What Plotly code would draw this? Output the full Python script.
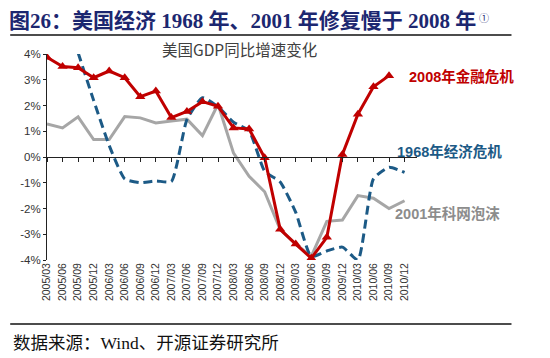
import plotly.graph_objects as go

quarters = ["2005/03","2005/06","2005/09","2005/12","2006/03","2006/06","2006/09","2006/12",
            "2007/03","2007/06","2007/09","2007/12","2008/03","2008/06","2008/09","2008/12",
            "2009/03","2009/06","2009/09","2009/12","2010/03","2010/06","2010/09","2010/12"]

crisis_2008 = [3.87, 3.51, 3.47, 3.08, 3.34, 3.08, 2.34, 2.56, 1.53, 1.77, 2.15, 1.97,
               1.13, 1.09, -0.03, -2.81, -3.38, -3.93, -3.12, 0.1, 1.66, 2.73, 3.16, None]
crisis_1968 = [None, None, 4.05, 2.2, 0.45, -0.85, -1.0, -0.93, -0.95, 1.45, 2.3, 1.95,
               1.35, 1.02, -0.55, -0.97, -2.15, -3.87, -3.65, -3.5, -4.0, -0.85, -0.4, -0.6]
bubble_2001 = [1.28, 1.13, 1.56, 0.68, 0.68, 1.57, 1.52, 1.32, 1.4, 1.47, 0.83, 2.05,
               0.15, -0.75, -1.35, -2.82, -3.38, -3.86, -2.5, -2.45, -1.5, -1.6, -2.0, -1.7]
y_ticks = [-4, -3, -2, -1, 0, 1, 2, 3, 4]
y_tick_labels = ["-4%", "-3%", "-2%", "-1%", "0%", "1%", "2%", "3%", "4%"]

RED = "#C00000"
BLUE = "#1C5A86"
GRAY = "#A6A6A6"

# target plot-area edges in screen pixels; the page body adds an 8px offset
OFF = 8
L, R, T, B = 45, 417, 54, 260
W, H = R - L, B - T


def px(xp):
    return (xp - L) / W


def py(yp):
    return (B - yp) / H


fig = go.Figure()
fig.add_trace(go.Scatter(x=quarters, y=bubble_2001, mode="lines",
                         line=dict(color=GRAY, width=3), showlegend=False))
fig.add_trace(go.Scatter(x=quarters, y=crisis_1968, mode="lines",
                         line=dict(color=BLUE, width=3, dash="9px,5px", shape="spline", smoothing=0.5),
                         showlegend=False))
fig.add_trace(go.Scatter(x=quarters, y=crisis_2008, mode="lines+markers",
                         line=dict(color=RED, width=3),
                         marker=dict(symbol="triangle-up", size=9, color=RED),
                         showlegend=False))
# helper trace for the zero-line axis
fig.add_trace(go.Scatter(x=quarters, y=[0] * len(quarters), mode="none", xaxis="x2",
                         showlegend=False, hoverinfo="skip"))

xr = [0, 23.8]
fig.update_layout(
    width=550, height=358,
    margin=dict(l=L - OFF, r=550 - R + OFF, t=T - OFF, b=358 - B + OFF),
    paper_bgcolor="white", plot_bgcolor="white",
    font=dict(family="Liberation Sans, Noto Sans CJK SC", color="#333333"),
    xaxis=dict(type="category", range=xr, showline=False, showgrid=False, zeroline=False,
               ticks="", tickangle=-90, tickfont=dict(size=10.5, color="#333333")),
    xaxis2=dict(type="category", range=xr, overlaying="x", anchor="free", position=0.5,
                showline=True, linecolor="#222222", linewidth=1, ticks="outside",
                ticklen=4, tickcolor="#222222", showticklabels=False, showgrid=False,
                zeroline=False),
    yaxis=dict(range=[-4, 4], tickvals=y_ticks, ticktext=y_tick_labels, showline=True,
               linecolor="#222222", linewidth=1, ticks="outside", ticklen=3,
               tickcolor="#222222", showgrid=False, zeroline=False,
               tickfont=dict(size=11.5, color="#333333")),
)

ann = []
ann.append(dict(text="<b>图26：美国经济 1968 年、2001 年修复慢于 2008 年</b>",
                x=px(6), y=py(21), xref="paper", yref="paper", xanchor="left", yanchor="middle",
                showarrow=False, borderpad=0,
                font=dict(family="Liberation Serif, Noto Sans CJK SC", size=21, color="#1c2770")))
ann.append(dict(text="①", x=px(478), y=py(17), xref="paper", yref="paper",
                xanchor="left", yanchor="middle", showarrow=False, borderpad=0,
                font=dict(family="Noto Sans CJK SC", size=10, color="#1c2770")))
ann.append(dict(text="数据来源：Wind、开源证券研究所",
                x=px(9), y=py(343), xref="paper", yref="paper", xanchor="left", yanchor="middle",
                showarrow=False,
                font=dict(family="Liberation Serif, Noto Sans CJK SC", size=17.5, color="#111111")))
ann.append(dict(text="美国GDP同比增速变化", x=px(239), y=py(49), xref="paper", yref="paper",
                xanchor="center", yanchor="middle", showarrow=False,
                font=dict(family="Noto Sans CJK SC", size=15.5, color="#404040")))
ann.append(dict(text="<b>2008年金融危机</b>", x=px(407), y=py(77), xref="paper", yref="paper",
                xanchor="left", yanchor="middle", showarrow=False,
                font=dict(family="Liberation Sans, Noto Sans CJK SC", size=14.5, color=RED)))
ann.append(dict(text="<b>1968年经济危机</b>", x=px(395), y=py(151), xref="paper", yref="paper",
                xanchor="left", yanchor="middle", showarrow=False,
                font=dict(family="Liberation Sans, Noto Sans CJK SC", size=14.5, color=BLUE)))
ann.append(dict(text="<b>2001年科网泡沫</b>", x=px(393), y=py(213), xref="paper", yref="paper",
                xanchor="left", yanchor="middle", showarrow=False,
                font=dict(family="Liberation Sans, Noto Sans CJK SC", size=14.5, color="#8C8C8C")))
fig.update_layout(annotations=ann)

fig.update_layout(shapes=[
    dict(type="line", xref="paper", yref="paper", x0=px(8), x1=px(512), y0=py(35), y1=py(35),
         line=dict(color="#111111", width=1.5)),
    dict(type="line", xref="paper", yref="paper", x0=px(8), x1=px(512), y0=py(324), y1=py(324),
         line=dict(color="#111111", width=1.5)),
])

fig.write_html("out.html")
